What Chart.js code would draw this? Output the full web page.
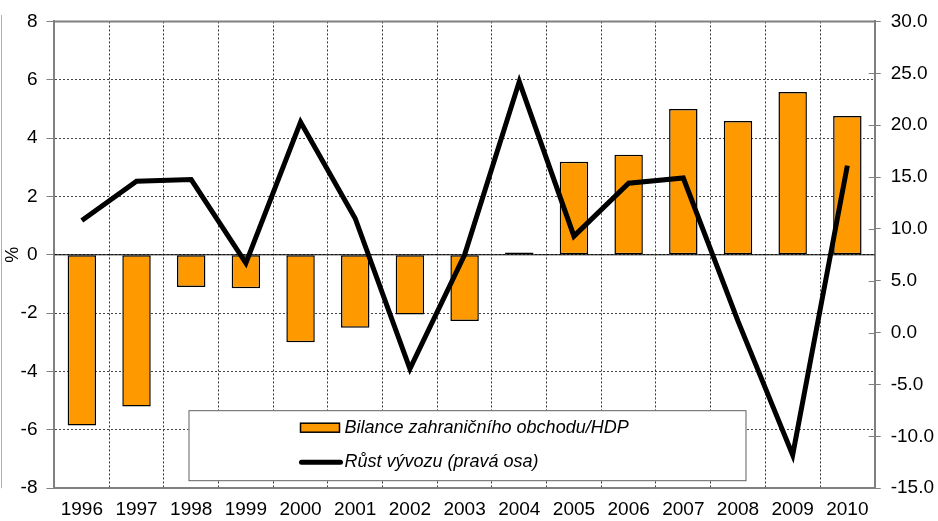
<!DOCTYPE html>
<html>
<head>
<meta charset="utf-8">
<script src="https://cdn.jsdelivr.net/npm/chart.js@4/dist/chart.umd.min.js"></script>
<style>
  html, body { margin: 0; padding: 0; background: #fff; }
  #wrap { width: 938px; height: 521px; }
</style>
</head>
<body>
<div id="wrap"><canvas id="chart_bilance"></canvas></div>
<script>
var years = ['1996', '1997', '1998', '1999', '2000', '2001', '2002', '2003', '2004', '2005', '2006', '2007', '2008', '2009', '2010'];
var bilanceHdp = [-5.85, -5.2, -1.1, -1.15, -3.0, -2.5, -2.05, -2.27, 0.08, 3.19, 3.43, 5.0, 4.59, 5.58, 4.76];
var rustVyvozu = [10.8, 14.6, 14.75, 6.7, 20.3, 11.0, -3.5, 7.5, 24.2, 9.3, 14.4, 14.9, 1.1, -11.8, 16.1];
var barLabel = 'Bilance zahraničního obchodu/HDP';
var lineLabel = 'Růst vývozu (pravá osa)';

var fontFamily = '"Liberation Sans", Arial, sans-serif';

var chart_bilance = new Chart(document.getElementById('chart_bilance'), {
    type: 'bar',
    data: {
        labels: years,
        datasets: [
            {
                type: 'line',
                label: lineLabel,
                data: rustVyvozu,
                yAxisID: 'y1',
                borderColor: '#000000',
                borderWidth: 5,
                pointRadius: 0,
                tension: 0,
                order: 0
            },
            {
                type: 'bar',
                label: barLabel,
                data: bilanceHdp,
                yAxisID: 'y',
                backgroundColor: '#FF9900',
                borderColor: '#000000',
                borderWidth: 1.5,
                borderSkipped: false,
                categoryPercentage: 1,
                barPercentage: 0.52,
                order: 1
            }
        ]
    },
    options: {
        animation: false,
        responsive: true,
        maintainAspectRatio: false,
        layout: { padding: { top: 13, left: 2, right: -6, bottom: -10 } },
        plugins: {
            legend: { display: false },
            tooltip: { enabled: false }
        },
        scales: {
            x: {
                grid: {
                    offset: true,
                    color: '#333333',
                    lineWidth: 1,
                    drawTicks: false
                },
                border: { display: true, color: '#808080', width: 2, dash: [2, 2] },
                ticks: { color: '#000', font: { family: fontFamily, size: 19 }, padding: 10 }
            },
            y: {
                position: 'left',
                min: -8,
                max: 8,
                ticks: { stepSize: 2, color: '#000', font: { family: fontFamily, size: 19 }, padding: 9 },
                grid: { color: '#444444', lineWidth: 1, tickLength: 8, tickColor: '#808080' },
                border: { display: true, color: '#808080', width: 2, dash: [2, 2] },
                title: { display: true, text: '%', color: '#000', font: { family: fontFamily, size: 18 }, padding: { top: 0, bottom: -12 } }
            },
            y1: {
                position: 'right',
                min: -15,
                max: 30,
                ticks: {
                    stepSize: 5,
                    color: '#000',
                    font: { family: fontFamily, size: 19 },
                    padding: 10,
                    callback: function (v) { return Number(v).toFixed(1); }
                },
                grid: { drawOnChartArea: false, tickLength: 6, tickColor: '#808080' },
                border: { display: true, color: '#808080', width: 2 }
            }
        }
    },
    plugins: [{
        id: 'customPlugin',
        beforeDraw: function (chart) {
            var ctx = chart.ctx;
            ctx.save();
            ctx.fillStyle = 'white';
            ctx.fillRect(0, 0, chart.width, chart.height);
            ctx.strokeStyle = '#b0b0b0';
            ctx.lineWidth = 1;
            ctx.beginPath();
            ctx.moveTo(1.5, 15);
            ctx.lineTo(1.5, chart.chartArea.bottom);
            ctx.stroke();
            ctx.restore();
        },
        beforeDatasetsDraw: function (chart) {
            var ctx = chart.ctx;
            var a = chart.chartArea;
            var y0 = chart.scales.y.getPixelForValue(0);
            ctx.save();
            ctx.strokeStyle = '#000000';
            ctx.lineWidth = 1;
            ctx.beginPath();
            ctx.moveTo(a.left, y0);
            ctx.lineTo(a.right, y0);
            ctx.stroke();
            ctx.strokeStyle = '#808080';
            ctx.lineWidth = 2;
            ctx.beginPath();
            ctx.moveTo(a.left, a.top);
            ctx.lineTo(a.right, a.top);
            ctx.stroke();
            // right axis ticks crossing inward
            var s = chart.scales.y1;
            ctx.lineWidth = 1;
            s.ticks.forEach(function (t) {
                var py = Math.round(s.getPixelForValue(t.value)) + 0.5;
                ctx.beginPath();
                ctx.moveTo(a.right - 6, py);
                ctx.lineTo(a.right, py);
                ctx.stroke();
            });
            ctx.restore();
        },
        afterDraw: function (chart) {
            var ctx = chart.ctx;
            var a = chart.chartArea;
            var bx = a.left + 134, by = a.bottom - 78, bw = 557, bh = 70;
            ctx.save();
            ctx.fillStyle = '#ffffff';
            ctx.fillRect(bx, by, bw, bh);
            ctx.strokeStyle = '#606060';
            ctx.lineWidth = 1;
            ctx.strokeRect(bx + 0.5, by + 0.5, bw, bh);
            // bar entry
            ctx.fillStyle = '#FF9900';
            ctx.fillRect(bx + 112, by + 13, 39, 9);
            ctx.strokeStyle = '#000';
            ctx.lineWidth = 1.5;
            ctx.strokeRect(bx + 112, by + 13, 39, 9);
            // line entry
            ctx.lineWidth = 5;
            ctx.lineCap = 'round';
            ctx.beginPath();
            ctx.moveTo(bx + 113, by + 52);
            ctx.lineTo(bx + 152, by + 52);
            ctx.stroke();
            ctx.fillStyle = '#000';
            ctx.font = 'italic 18px ' + fontFamily;
            ctx.textBaseline = 'middle';
            ctx.fillText(chart.data.datasets[1].label, bx + 156, by + 18);
            ctx.fillText(chart.data.datasets[0].label, bx + 156, by + 52);
            ctx.restore();
        }
    }]
});
</script>
</body>
</html>
